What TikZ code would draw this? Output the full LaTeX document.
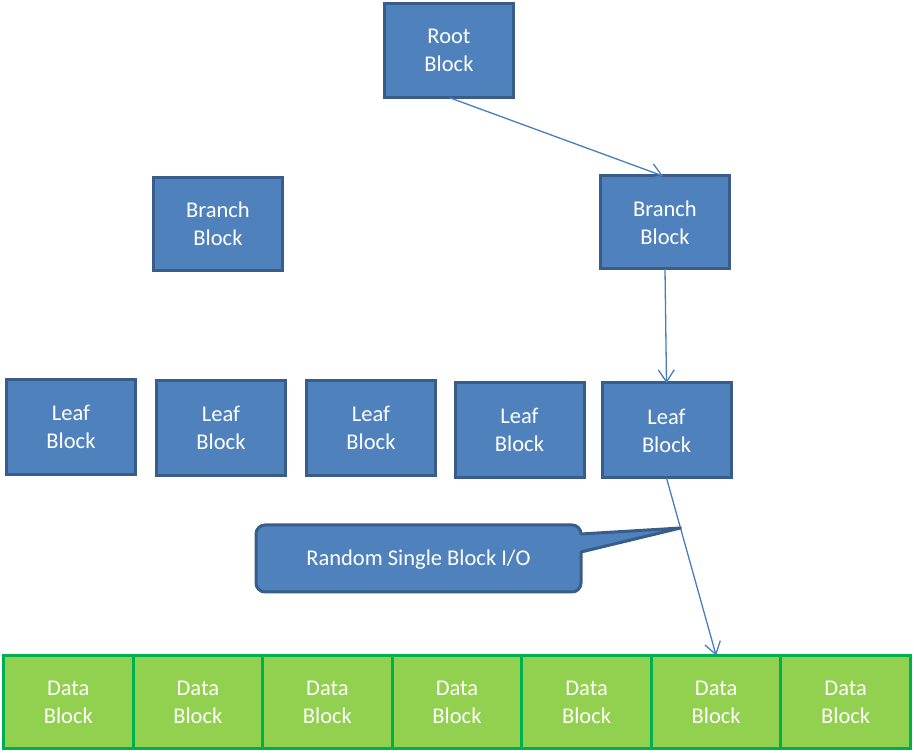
\documentclass[tikz,border=0pt]{standalone}
\usepackage{fontspec}
\setmainfont{Carlito}
\usetikzlibrary{arrows.meta,calc}
\definecolor{bfill}{HTML}{4F81BD}
\definecolor{bline}{HTML}{385D8A}
\definecolor{gfill}{HTML}{92D050}
\definecolor{gline}{HTML}{00B050}
\definecolor{arr}{HTML}{4A7EBB}
\tikzset{
  blk/.style={draw=bline, fill=bfill, line width=3pt, minimum width=129pt, minimum height=94pt,
    inner sep=0pt, outer sep=0pt, text=white, align=center,
    font=\fontsize{22.5}{28}\selectfont},
  datablk/.style={draw=gline, fill=gfill, line width=3pt, minimum width=129.57pt, minimum height=93pt,
    inner sep=0pt, outer sep=0pt, text=white, align=center,
    font=\fontsize{22.5}{28}\selectfont},
  conn/.style={draw=arr, line width=1.3pt, -{Straight Barb[length=12pt,width=16pt,line width=1.3pt]}},
  callout/.style={draw=bline, fill=bfill, line width=3pt, line join=round},
  lbl/.style={text=white, font=\fontsize{22.5}{28}\selectfont, inner sep=0pt}
}
\begin{document}
\begin{tikzpicture}[x=1pt,y=1pt]
\useasboundingbox (0,0) rectangle (914,753);
% blocks
\node[blk] (root) at (449,702.5) {Root\\Block};
\node[blk, minimum height=93pt] (brL) at (218,529) {Branch\\Block};
\node[blk, minimum height=93pt] (brR) at (665,530.5) {Branch\\Block};
\node[blk, minimum height=95pt] (lf1) at (71,326) {Leaf\\Block};
\node[blk, minimum height=95pt] (lf2) at (221,325) {Leaf\\Block};
\node[blk, minimum height=95pt] (lf3) at (371,325) {Leaf\\Block};
\node[blk, minimum height=95pt] (lf4) at (519.5,323) {Leaf\\Block};
\node[blk, minimum height=95pt] (lf5) at (666.5,322.5) {Leaf\\Block};
% data blocks
\foreach \i in {1,...,7}{
  \node[datablk] (d\i) at ({3.5+129.57*(\i-0.5)},51) {Data\\Block};
}
% connectors
\draw[conn] (root.south) -- ([xshift=-2pt]brR.north);
\draw[conn] (brR.south) -- (lf5.north);
\draw[conn] (lf5.south) -- (d6.north);
\coordinate (tip) at ($(lf5.south)!0.2817!(d6.north)$);
% callout
\draw[callout] (265,228) -- (572,228) arc[start angle=90,end angle=0,radius=9]
  -- (tip) -- (581,201) -- (581,170) arc[start angle=0,end angle=-90,radius=9]
  -- (265,161) arc[start angle=270,end angle=180,radius=9]
  -- (256,219) arc[start angle=180,end angle=90,radius=9] -- cycle;
\node[lbl] (callt) at (418.5,193) {Random Single Block I/O};
\end{tikzpicture}
\end{document}
